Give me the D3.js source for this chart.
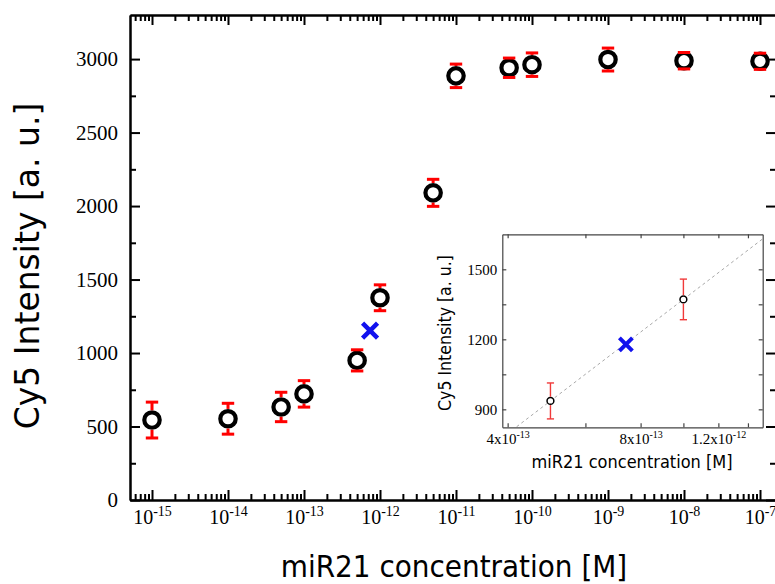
<!DOCTYPE html>
<html>
<head>
<meta charset="utf-8">
<script src="https://cdn.jsdelivr.net/npm/d3@7"></script>
<style>
  body { margin: 0; background: #fff; }
  svg { display: block; }
</style>
</head>
<body>
<div id="chart"></div>
<script>
// main panel: concentration series
const concentration = [1e-15, 1e-14, 5e-14, 1e-13, 5e-13, 1e-12, 5e-12, 1e-11, 5e-11, 1e-10, 1e-9, 1e-8, 1e-7];
const intensity = [544, 553, 633, 722, 950, 1376, 2090, 2886, 2941, 2962, 2997, 2989, 2985];
const intensityErr = [122, 105, 100, 90, 72, 88, 92, 80, 66, 80, 78, 56, 55];
const unknownMain = [7.4e-13, 1152];

// inset: the two bracketing points and the unknown
const insetConcentration = [5e-13, 1e-12];
const insetIntensity = [936, 1371];
const insetErr = [77, 87];
const unknownInset = [7.41e-13, 1178];

// ticks
const decades = [-15, -14, -13, -12, -11, -10, -9, -8, -7];
const yTicks = [0, 500, 1000, 1500, 2000, 2500, 3000];
const yMinor = [250, 750, 1250, 1750, 2250, 2750];
const insetXTicks = [4e-13, 8e-13, 1.2e-12];
const insetXMinor = [6e-13, 1e-12, 1.4e-12];
const insetYTicks = [900, 1200, 1500];
const insetYMinor = [1050, 1350];

const W = 775, H = 584;
const sansFont = '"DejaVu Sans Condensed", "DejaVu Sans", sans-serif';
const sansWide = '"DejaVu Sans", sans-serif';
const serifFont = '"Liberation Serif", "DejaVu Serif", serif';

const svg = d3.select("#chart").append("svg")
  .attr("width", W)
  .attr("height", H)
  .attr("viewBox", [0, 0, W, H].join(" "));
svg.append("rect").attr("width", W).attr("height", H).attr("fill", "#fff");

/* main scales */
const x = d3.scaleLog()
  .domain([Math.pow(10, -15.2895), Math.pow(10, -6.7895)])
  .range([130, 776]);
const y = d3.scaleLinear()
  .domain([0, 3300])
  .range([500, 15]);

var xMinor = [];
for (var k = -16; k <= -7; k++) {
  for (var m = 2; m <= 9; m++) {
    var v = m * Math.pow(10, k);
    if (v > x.domain()[0] && v < x.domain()[1]) xMinor.push(v);
  }
}
const decadeVals = decades.map(d => Math.pow(10, d));

function styleAxis(g, w, col) {
  g.select(".domain").attr("stroke", col || "#000").attr("stroke-width", w);
  g.selectAll(".tick line").attr("stroke", col || "#000").attr("stroke-width", w);
}

// powers of ten as "10" + superscript
function supLabels(sel, size, supSize, raise) {
  sel.each(function(d) {
    var t = d3.select(this);
    var e = Math.floor(Math.log10(d) + 1e-9);
    var mant = Math.round(d / Math.pow(10, e) * 10) / 10;
    t.text(null);
    t.append("tspan").text(mant === 1 ? "10" : mant + "x10");
    t.append("tspan").attr("dy", -raise).attr("font-size", supSize).text(e);
  });
}

// bottom
const xBottom = svg.append("g").attr("transform", "translate(0,500)")
  .call(d3.axisBottom(x).tickValues(decadeVals).tickSize(-10).tickSizeOuter(0).tickPadding(10));
svg.append("g").attr("transform", "translate(0,500)")
  .call(d3.axisBottom(x).tickValues(xMinor).tickSize(-6).tickSizeOuter(0).tickFormat(""))
  .call(g => styleAxis(g, 2));
styleAxis(xBottom, 2);
xBottom.selectAll(".tick text")
  .attr("font-family", serifFont)
  .attr("font-size", 20)
  .attr("fill", "#000")
  .call(s => supLabels(s, 20, 14, 8));

// top
svg.append("g").attr("transform", "translate(0,15)")
  .call(d3.axisTop(x).tickValues(decadeVals).tickSize(-10).tickSizeOuter(0).tickFormat(""))
  .call(g => styleAxis(g, 2));
svg.append("g").attr("transform", "translate(0,15)")
  .call(d3.axisTop(x).tickValues(xMinor).tickSize(-6).tickSizeOuter(0).tickFormat(""))
  .call(g => styleAxis(g, 2));

// left
const yLeft = svg.append("g").attr("transform", "translate(130,0)")
  .call(d3.axisLeft(y).tickValues(yTicks).tickSize(-10).tickSizeOuter(0).tickPadding(12).tickFormat(d3.format("d")));
styleAxis(yLeft, 2);
yLeft.selectAll(".tick text")
  .attr("font-family", serifFont)
  .attr("font-size", 21)
  .attr("fill", "#000");
svg.append("g").attr("transform", "translate(130,0)")
  .call(d3.axisLeft(y).tickValues(yMinor).tickSize(-6).tickSizeOuter(0).tickFormat(""))
  .call(g => styleAxis(g, 2));

// right
svg.append("g").attr("transform", "translate(776,0)")
  .call(d3.axisRight(y).tickValues(yTicks).tickSize(-10).tickSizeOuter(0).tickFormat(""))
  .call(g => styleAxis(g, 2));
svg.append("g").attr("transform", "translate(776,0)")
  .call(d3.axisRight(y).tickValues(yMinor).tickSize(-6).tickSizeOuter(0).tickFormat(""))
  .call(g => styleAxis(g, 2));

// titles
svg.append("text")
  .text("miR21 concentration [M]")
  .attr("x", 454)
  .attr("y", 577)
  .attr("text-anchor", "middle")
  .attr("font-family", sansFont)
  .attr("font-size", 31)
  .attr("fill", "#000");

svg.append("text")
  .text("Cy5 Intensity [a. u.]")
  .attr("transform", "translate(39,266) rotate(-90)")
  .attr("text-anchor", "middle")
  .attr("font-family", sansWide)
  .attr("font-size", 33)
  .attr("fill", "#000");

/* points with error bars; stems stop at the ring, caps go on top */
function drawPoints(g, xs, ys, cx, cy, errs, opt) {
  var outer = opt.r + opt.ring / 2;
  g.append("g").selectAll("circle")
    .data(cx)
    .enter()
    .append("circle")
    .attr("cx", (d) => xs(d))
    .attr("cy", (d, i) => ys(cy[i]))
    .attr("r", opt.r)
    .attr("fill", "#fff")
    .attr("stroke", "#000")
    .attr("stroke-width", opt.ring);
  var bars = g.append("g")
    .attr("stroke", opt.barColor)
    .attr("stroke-width", opt.barWidth)
    .attr("fill", "none");
  cx.forEach((c, i) => {
    var px = xs(c);
    var py = ys(cy[i]);
    var top = ys(cy[i] + errs[i]);
    var bot = ys(cy[i] - errs[i]);
    if (py - top > outer) {
      bars.append("line").attr("x1", px).attr("x2", px).attr("y1", top).attr("y2", py - outer);
      bars.append("line").attr("x1", px).attr("x2", px).attr("y1", py + outer).attr("y2", bot);
    }
    bars.append("line").attr("x1", px - opt.cap).attr("x2", px + opt.cap).attr("y1", top).attr("y2", top);
    bars.append("line").attr("x1", px - opt.cap).attr("x2", px + opt.cap).attr("y1", bot).attr("y2", bot);
  });
}

function drawCross(g, px, py, half, w) {
  g.append("path")
    .attr("d", `M${px - half},${py - half}L${px + half},${py + half}M${px - half},${py + half}L${px + half},${py - half}`)
    .attr("stroke", "#1212ee")
    .attr("stroke-width", w)
    .attr("fill", "none");
}

const mainLayer = svg.append("g");
drawPoints(mainLayer, x, y, concentration, intensity, intensityErr,
  {r: 7.7, ring: 4.2, barColor: "#ff0000", barWidth: 3, cap: 6.2});
drawCross(mainLayer, x(unknownMain[0]), y(unknownMain[1]), 7.5, 4.5);

/* inset */
const ix = d3.scaleLog()
  .domain([3.89e-13, 1.512e-12])
  .range([502.3, 762.7]);
const iy = d3.scaleLinear()
  .domain([823, 1650])
  .range([427.3, 234.3]);
const inset = svg.append("g");
const frameCol = "#444";

inset.append("rect")
  .attr("x", ix.range()[0])
  .attr("y", iy.range()[1])
  .attr("width", ix.range()[1] - ix.range()[0])
  .attr("height", iy.range()[0] - iy.range()[1])
  .attr("fill", "#fff");

svg.append("clipPath").attr("id", "inset-clip")
  .append("rect")
  .attr("x", ix.range()[0])
  .attr("y", iy.range()[1])
  .attr("width", ix.range()[1] - ix.range()[0])
  .attr("height", iy.range()[0] - iy.range()[1]);

// dashed line through the two calibration points (linear in log x)
var lx0 = Math.log10(insetConcentration[0]), lx1 = Math.log10(insetConcentration[1]);
var slope = (insetIntensity[1] - insetIntensity[0]) / (lx1 - lx0);
var lineX = ix.domain();
inset.append("line")
  .attr("clip-path", "url(#inset-clip)")
  .attr("x1", ix(lineX[0]))
  .attr("y1", iy(insetIntensity[0] + slope * (Math.log10(lineX[0]) - lx0)))
  .attr("x2", ix(lineX[1]))
  .attr("y2", iy(insetIntensity[0] + slope * (Math.log10(lineX[1]) - lx0)))
  .attr("stroke", "#a8a8a8")
  .attr("stroke-width", 1)
  .attr("stroke-dasharray", "3,3");

const iB = inset.append("g").attr("transform", `translate(0,${iy.range()[0]})`)
  .call(d3.axisBottom(ix).tickValues(insetXTicks.concat(insetXMinor)).tickSize(-4).tickSizeOuter(0).tickPadding(6));
styleAxis(iB, 1.2, frameCol);
iB.selectAll(".tick text")
  .filter(d => insetXMinor.indexOf(d) >= 0).remove();
iB.selectAll(".tick text")
  .attr("font-family", serifFont)
  .attr("font-size", 15)
  .attr("fill", "#000")
  .call(s => supLabels(s, 15, 10, 6));

inset.append("g").attr("transform", `translate(0,${iy.range()[1]})`)
  .call(d3.axisTop(ix).tickValues(insetXTicks.concat(insetXMinor)).tickSize(-4).tickSizeOuter(0).tickFormat(""))
  .call(g => styleAxis(g, 1.2, frameCol));

const iL = inset.append("g").attr("transform", `translate(${ix.range()[0]},0)`)
  .call(d3.axisLeft(iy).tickValues(insetYTicks.concat(insetYMinor)).tickSize(-4).tickSizeOuter(0).tickPadding(5).tickFormat(d3.format("d")));
styleAxis(iL, 1.2, frameCol);
iL.selectAll(".tick text")
  .filter(d => insetYMinor.indexOf(d) >= 0).remove();
iL.selectAll(".tick text")
  .attr("font-family", serifFont)
  .attr("font-size", 15)
  .attr("fill", "#000");

inset.append("g").attr("transform", `translate(${ix.range()[1]},0)`)
  .call(d3.axisRight(iy).tickValues(insetYTicks.concat(insetYMinor)).tickSize(-4).tickSizeOuter(0).tickFormat(""))
  .call(g => styleAxis(g, 1.2, frameCol));

inset.append("text")
  .text("miR21 concentration [M]")
  .attr("x", 632)
  .attr("y", 468)
  .attr("text-anchor", "middle")
  .attr("font-family", sansFont)
  .attr("font-size", 18)
  .attr("fill", "#000");

inset.append("text")
  .text("Cy5 Intensity [a. u.]")
  .attr("transform", "translate(451,333) rotate(-90)")
  .attr("text-anchor", "middle")
  .attr("font-family", sansFont)
  .attr("font-size", 17.5)
  .attr("fill", "#000");

drawPoints(inset, ix, iy, insetConcentration, insetIntensity, insetErr,
  {r: 3.4, ring: 1.5, barColor: "#f03a3a", barWidth: 1.4, cap: 3.6});
drawCross(inset, ix(unknownInset[0]), iy(unknownInset[1]), 6.5, 4);
</script>
</body>
</html>
